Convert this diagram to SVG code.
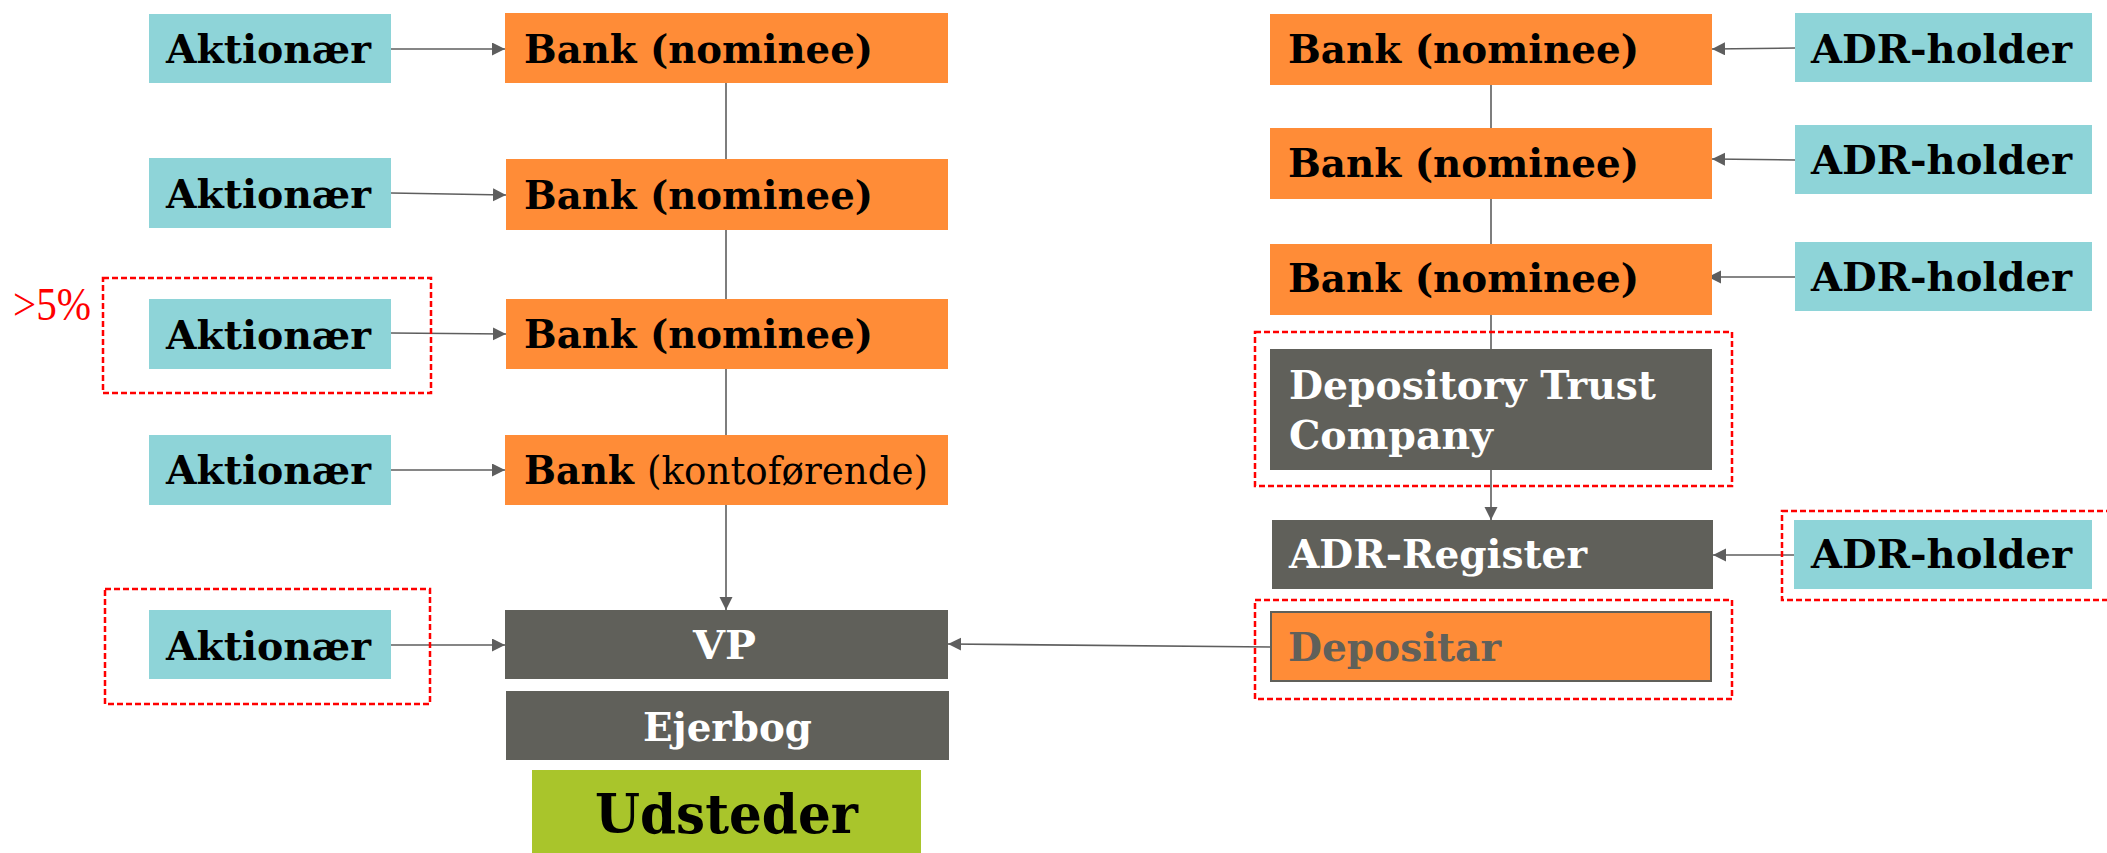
<svg xmlns="http://www.w3.org/2000/svg" width="2107" height="853" viewBox="0 0 2107 853">
  <style>
    .holder { fill: #8ED4D8; }
    .bank { fill: #FF8C37; }
    .dark { fill: #60605A; }
    .issuer { fill: #A9C52B; }
    .lbl { font-family: "DejaVu Serif", "Liberation Serif", serif; font-size: 40px; font-weight: bold; fill: #000000; }
    .lbl-w { fill: #FFFFFF; }
    .lbl-g { fill: #60605A; }
    .reg { font-weight: normal; }
    .pct { font-family: "Liberation Serif", "DejaVu Serif", serif; font-size: 47px; fill: #FF0000; }
    .mark { fill: none; stroke: #FF0000; stroke-width: 2.5; stroke-dasharray: 6 3; }
    .conn { stroke: #5E5E5E; stroke-width: 1.6; fill: none; }
    .conn-a { marker-end: url(#arrow); }
  </style>
  <defs>
    <marker id="arrow" markerUnits="userSpaceOnUse" markerWidth="14" markerHeight="14" refX="13" refY="6.5" orient="auto">
      <path d="M0,0 L13,6.5 L0,13 Z" fill="#5E5E5E"/>
    </marker>
  </defs>

  <rect width="2107" height="853" fill="#FFFFFF"/>

  <!-- connectors -->
  <g id="connectors">
    <line class="conn conn-a" x1="391" y1="49" x2="505" y2="49"/>
    <line class="conn conn-a" x1="391" y1="193" x2="506" y2="195"/>
    <line class="conn conn-a" x1="391" y1="333" x2="506" y2="334"/>
    <line class="conn conn-a" x1="391" y1="470" x2="505" y2="470"/>
    <line class="conn conn-a" x1="391" y1="645" x2="505" y2="645"/>
    <line class="conn" x1="726" y1="83" x2="726" y2="159"/>
    <line class="conn" x1="726" y1="230" x2="726" y2="299"/>
    <line class="conn" x1="726" y1="369" x2="726" y2="435"/>
    <line class="conn conn-a" x1="726" y1="505" x2="726" y2="610"/>
    <line class="conn conn-a" x1="1795" y1="48" x2="1712" y2="49"/>
    <line class="conn conn-a" x1="1795" y1="160" x2="1712" y2="159"/>
    <line class="conn conn-a" x1="1795" y1="277" x2="1708" y2="277"/>
    <line class="conn conn-a" x1="1794" y1="555" x2="1713" y2="555"/>
    <line class="conn" x1="1491" y1="85" x2="1491" y2="128"/>
    <line class="conn" x1="1491" y1="199" x2="1491" y2="244"/>
    <line class="conn" x1="1491" y1="315" x2="1491" y2="349"/>
    <line class="conn conn-a" x1="1491" y1="470" x2="1491" y2="520"/>
    <line class="conn conn-a" x1="1271" y1="647" x2="948" y2="644"/>
  </g>

  <!-- shareholders -->
  <g id="aktionaer-1">
    <rect class="holder" x="149" y="14" width="242" height="69"/>
    <text class="lbl" x="166" y="63" textLength="205" lengthAdjust="spacingAndGlyphs">Aktionær</text>
  </g>
  <g id="aktionaer-2">
    <rect class="holder" x="149" y="158" width="242" height="70"/>
    <text class="lbl" x="166" y="208" textLength="205" lengthAdjust="spacingAndGlyphs">Aktionær</text>
  </g>
  <g id="aktionaer-3">
    <rect class="holder" x="149" y="299" width="242" height="70"/>
    <text class="lbl" x="166" y="349" textLength="205" lengthAdjust="spacingAndGlyphs">Aktionær</text>
  </g>
  <g id="aktionaer-4">
    <rect class="holder" x="149" y="435" width="242" height="70"/>
    <text class="lbl" x="166" y="484" textLength="205" lengthAdjust="spacingAndGlyphs">Aktionær</text>
  </g>
  <g id="aktionaer-5">
    <rect class="holder" x="149" y="610" width="242" height="69"/>
    <text class="lbl" x="166" y="660" textLength="205" lengthAdjust="spacingAndGlyphs">Aktionær</text>
  </g>

  <!-- banks, left -->
  <g id="bank-left-1">
    <rect class="bank" x="505" y="13" width="443" height="70"/>
    <text class="lbl" x="524" y="63" textLength="349" lengthAdjust="spacingAndGlyphs">Bank (nominee)</text>
  </g>
  <g id="bank-left-2">
    <rect class="bank" x="506" y="159" width="442" height="71"/>
    <text class="lbl" x="524" y="209" textLength="349" lengthAdjust="spacingAndGlyphs">Bank (nominee)</text>
  </g>
  <g id="bank-left-3">
    <rect class="bank" x="506" y="299" width="442" height="70"/>
    <text class="lbl" x="524" y="348" textLength="349" lengthAdjust="spacingAndGlyphs">Bank (nominee)</text>
  </g>
  <g id="bank-left-4">
    <rect class="bank" x="505" y="435" width="443" height="70"/>
    <text class="lbl" y="484"><tspan x="524" textLength="110" lengthAdjust="spacingAndGlyphs">Bank</tspan><tspan class="reg" x="647" textLength="281" lengthAdjust="spacingAndGlyphs">(kontoførende)</tspan></text>
  </g>

  <!-- central register -->
  <g id="vp">
    <rect class="dark" x="505" y="610" width="443" height="69"/>
    <text class="lbl lbl-w" x="693" y="659" textLength="63" lengthAdjust="spacingAndGlyphs">VP</text>
  </g>
  <g id="ejerbog">
    <rect class="dark" x="506" y="691" width="443" height="69"/>
    <text class="lbl lbl-w" x="643" y="741" textLength="169" lengthAdjust="spacingAndGlyphs">Ejerbog</text>
  </g>
  <g id="udsteder">
    <rect class="issuer" x="532" y="770" width="389" height="90"/>
    <text class="lbl" x="595" y="833" style="font-size:55px" textLength="263" lengthAdjust="spacingAndGlyphs">Udsteder</text>
  </g>

  <!-- banks, right -->
  <g id="bank-right-1">
    <rect class="bank" x="1270" y="14" width="442" height="71"/>
    <text class="lbl" x="1288" y="63" textLength="351" lengthAdjust="spacingAndGlyphs">Bank (nominee)</text>
  </g>
  <g id="bank-right-2">
    <rect class="bank" x="1270" y="128" width="442" height="71"/>
    <text class="lbl" x="1288" y="177" textLength="351" lengthAdjust="spacingAndGlyphs">Bank (nominee)</text>
  </g>
  <g id="bank-right-3">
    <rect class="bank" x="1270" y="244" width="442" height="71"/>
    <text class="lbl" x="1288" y="292" textLength="351" lengthAdjust="spacingAndGlyphs">Bank (nominee)</text>
  </g>

  <!-- ADR holders -->
  <g id="adr-holder-1">
    <rect class="holder" x="1795" y="13" width="297" height="69"/>
    <text class="lbl" x="1811" y="63" textLength="261" lengthAdjust="spacingAndGlyphs">ADR-holder</text>
  </g>
  <g id="adr-holder-2">
    <rect class="holder" x="1795" y="125" width="297" height="69"/>
    <text class="lbl" x="1811" y="174" textLength="261" lengthAdjust="spacingAndGlyphs">ADR-holder</text>
  </g>
  <g id="adr-holder-3">
    <rect class="holder" x="1795" y="242" width="297" height="69"/>
    <text class="lbl" x="1811" y="291" textLength="261" lengthAdjust="spacingAndGlyphs">ADR-holder</text>
  </g>
  <g id="adr-holder-4">
    <rect class="holder" x="1794" y="520" width="298" height="69"/>
    <text class="lbl" x="1811" y="568" textLength="261" lengthAdjust="spacingAndGlyphs">ADR-holder</text>
  </g>

  <!-- ADR chain -->
  <g id="dtc">
    <rect class="dark" x="1270" y="349" width="442" height="121"/>
    <text class="lbl lbl-w" x="1289" y="399" textLength="367" lengthAdjust="spacingAndGlyphs">Depository Trust</text>
    <text class="lbl lbl-w" x="1289" y="449" textLength="204" lengthAdjust="spacingAndGlyphs">Company</text>
  </g>
  <g id="adr-register">
    <rect class="dark" x="1272" y="520" width="441" height="69"/>
    <text class="lbl lbl-w" x="1289" y="568" textLength="298" lengthAdjust="spacingAndGlyphs">ADR-Register</text>
  </g>
  <g id="depositar">
    <rect class="bank" x="1271" y="612" width="440" height="69" stroke="#60605A" stroke-width="2"/>
    <text class="lbl lbl-g" x="1288" y="661" textLength="213" lengthAdjust="spacingAndGlyphs">Depositar</text>
  </g>

  <!-- highlighted entities -->
  <g id="highlights">
    <rect class="mark" x="103" y="278" width="328" height="115"/>
    <rect class="mark" x="105" y="589" width="325" height="115"/>
    <rect class="mark" x="1255" y="332" width="477" height="154"/>
    <rect class="mark" x="1255" y="600" width="477" height="99"/>
    <rect class="mark" x="1782" y="511" width="330" height="89"/>
    <text class="pct" x="13" y="320" textLength="78" lengthAdjust="spacingAndGlyphs">&gt;5%</text>
  </g>
</svg>
